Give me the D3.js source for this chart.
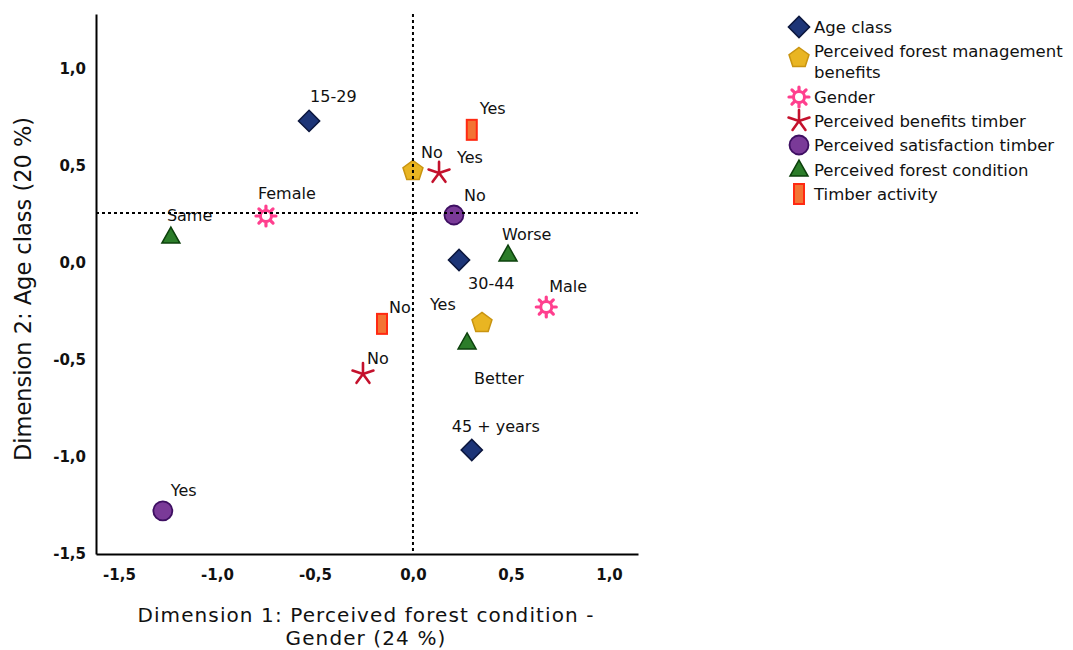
<!DOCTYPE html>
<html><head><meta charset="utf-8">
<script src="https://cdn.jsdelivr.net/npm/d3@7"></script>
<style>
body{margin:0;background:#fff;}
svg{display:block;font-family:"DejaVu Sans",Verdana,sans-serif;}
</style></head>
<body>
<svg id="chart" width="1073" height="650"></svg>
<script>
// ---- data ----
const categories = ["Age class", "Perceived forest management benefits", "Gender",
  "Perceived benefits timber", "Perceived satisfaction timber", "Perceived forest condition", "Timber activity"];
const pointLabels = ["15-29", "30-44", "45 + years", "No", "Yes", "Female", "Male", "Yes", "No",
  "No", "Yes", "Same", "Worse", "Better", "Yes", "No"];
const pointGroup = [0, 0, 0, 1, 1, 2, 2, 3, 3, 4, 4, 5, 5, 5, 6, 6];
const dim1 = [-0.53, 0.235, 0.30, 0.0, 0.352, -0.75, 0.68, 0.133, -0.255, 0.209, -1.276, -1.235, 0.485, 0.276, 0.30, -0.158];
const dim2 = [0.732, 0.015, -0.964, 0.479, -0.304, 0.242, -0.227, 0.464, -0.572, 0.247, -1.278, 0.134, 0.041, -0.412, 0.686, -0.314];
const xTicks = [-1.5, -1.0, -0.5, 0.0, 0.5, 1.0];
const yTicks = [-1.5, -1.0, -0.5, 0.0, 0.5, 1.0];
const refX = 0.0;
const refY = 0.258;
const xTitle = ["Dimension 1: Perceived forest condition -", "Gender (24 %)"];
const yTitle = "Dimension 2: Age class (20 %)";

// ---- layout (label offsets in px relative to marker) ----
const labelOffsets = [[1,-19],[9,29],[-20,-18],[8,-12],[-52,-12],[-8,-17],[3,-15],[18,-10],[4,-10],
  [10,-14],[8,-15],[-4,-16],[-6,-15],[7,41],[8,-16],[7,-11]];

const svg = d3.select("#chart");
const x = d3.scaleLinear().domain([-1.617, 1.148]).range([96, 638]);
const y = d3.scaleLinear().domain([-1.5, 1.283]).range([554, 14]);
const fmt = v => d3.format(".1f")(v).replace(".", ",").replace("\u2212", "-");

// axes
const gx = svg.append("g").attr("transform", "translate(0,554)")
  .call(d3.axisBottom(x).tickValues(xTicks).tickFormat(fmt).tickSize(0).tickPadding(15));
const gy = svg.append("g").attr("transform", "translate(96,0)")
  .call(d3.axisLeft(y).tickValues(yTicks).tickFormat(fmt).tickSize(0).tickPadding(10));
[gx, gy].forEach(g => {
  g.select(".domain").attr("stroke", "#000").attr("stroke-width", 2);
  g.selectAll("text").attr("font-family", "DejaVu Sans").attr("font-size", 15).attr("font-weight", "bold").attr("fill", "#111");
});

// axis titles
svg.append("text").attr("x", 366).attr("y", 622).attr("text-anchor", "middle")
  .attr("font-size", 20).attr("letter-spacing", 1.1).attr("fill", "#111")
  .selectAll("tspan").data(xTitle).join("tspan")
  .attr("x", 366).attr("dy", (d, i) => i ? 23 : 0).text(d => d);
svg.append("text").attr("transform", "translate(31,289) rotate(-90)").attr("text-anchor", "middle")
  .attr("font-size", 22.5).attr("fill", "#111").text(yTitle);

// marker drawing
const styles = [
  {fill: "#1d3577", stroke: "#0b163d"},
  {fill: "#e9b522", stroke: "#c99410"},
  {fill: "#ffffff", stroke: "#ff3f8e"},
  {fill: "none", stroke: "#c4112c"},
  {fill: "#7a3a98", stroke: "#3e0f62"},
  {fill: "#2c7d2a", stroke: "#0c410c"},
  {fill: "#f37434", stroke: "#ff2a12"}
];
function drawMarker(g, grp) {
  const s = styles[grp];
  if (grp === 0) {
    g.append("rect").attr("x", -7.5).attr("y", -7.5).attr("width", 15).attr("height", 15)
      .attr("transform", "rotate(45)").attr("fill", s.fill).attr("stroke", s.stroke).attr("stroke-width", 1.5);
  } else if (grp === 1) {
    const pts = d3.range(5).map(i => { const a = -Math.PI/2 + i * 2*Math.PI/5; return [10.5*Math.cos(a), 10.5*Math.sin(a) + 1]; });
    g.append("path").attr("d", d3.line()(pts) + "Z").attr("fill", s.fill).attr("stroke", s.stroke).attr("stroke-width", 1.5);
  } else if (grp === 2) {
    d3.range(8).forEach(i => {
      const a = i * Math.PI / 4;
      g.append("line").attr("x1", 5*Math.cos(a)).attr("y1", 5*Math.sin(a))
        .attr("x2", 10*Math.cos(a)).attr("y2", 10*Math.sin(a))
        .attr("stroke", s.stroke).attr("stroke-width", 3.2).attr("stroke-linecap", "round");
    });
    g.append("circle").attr("r", 5.5).attr("fill", s.fill).attr("stroke", s.stroke).attr("stroke-width", 3);
  } else if (grp === 3) {
    d3.range(5).forEach(i => {
      const a = -Math.PI/2 + i * 2*Math.PI/5;
      g.append("line").attr("x1", 0).attr("y1", 0).attr("x2", 11*Math.cos(a)).attr("y2", 11*Math.sin(a))
        .attr("stroke", s.stroke).attr("stroke-width", 2.6).attr("stroke-linecap", "round");
    });
  } else if (grp === 4) {
    g.append("circle").attr("r", 9.5).attr("fill", s.fill).attr("stroke", s.stroke).attr("stroke-width", 1.8);
  } else if (grp === 5) {
    const h = 16, w = 18;
    g.append("path").attr("d", d3.line()([[0, -h*0.62], [w/2, h*0.38], [-w/2, h*0.38]]) + "Z")
      .attr("fill", s.fill).attr("stroke", s.stroke).attr("stroke-width", 1.5);
  } else {
    g.append("rect").attr("x", -5).attr("y", -10).attr("width", 10).attr("height", 20)
      .attr("fill", s.fill).attr("stroke", s.stroke).attr("stroke-width", 2);
  }
}

// points
const idx = d3.range(dim1.length);
const pts = svg.append("g");
idx.forEach(i => {
  const g = pts.append("g").attr("transform", `translate(${x(dim1[i])},${y(dim2[i])})`);
  drawMarker(g, pointGroup[i]);
  g.append("text").attr("x", labelOffsets[i][0]).attr("y", labelOffsets[i][1])
    .attr("font-size", 16).attr("fill", "#111").text(pointLabels[i]);
});

// reference lines (drawn on top of markers)
svg.append("line").attr("x1", x(refX)).attr("x2", x(refX)).attr("y1", 14).attr("y2", 554)
  .attr("stroke", "#000").attr("stroke-width", 2).attr("stroke-dasharray", "3,3");
svg.append("line").attr("x1", 96).attr("x2", 638).attr("y1", y(refY)).attr("y2", y(refY))
  .attr("stroke", "#000").attr("stroke-width", 2).attr("stroke-dasharray", "3,3");

// legend
const legendRows = [[27], [51, 72], [97], [121], [145], [170], [194]];
const legendText = [["Age class"], ["Perceived forest management", "benefits"], ["Gender"],
  ["Perceived benefits timber"], ["Perceived satisfaction timber"], ["Perceived forest condition"], ["Timber activity"]];
const leg = svg.append("g");
categories.forEach((c, i) => {
  const rows = legendRows[i];
  const my = rows.length > 1 ? rows[0] + 6 : rows[0];
  const g = leg.append("g").attr("transform", `translate(799,${my})`);
  drawMarker(g, i);
  legendText[i].forEach((t, j) => {
    leg.append("text").attr("x", 814).attr("y", rows[j] + 6).attr("font-size", 16.5).attr("fill", "#111").text(t);
  });
});
</script>
</body></html>
